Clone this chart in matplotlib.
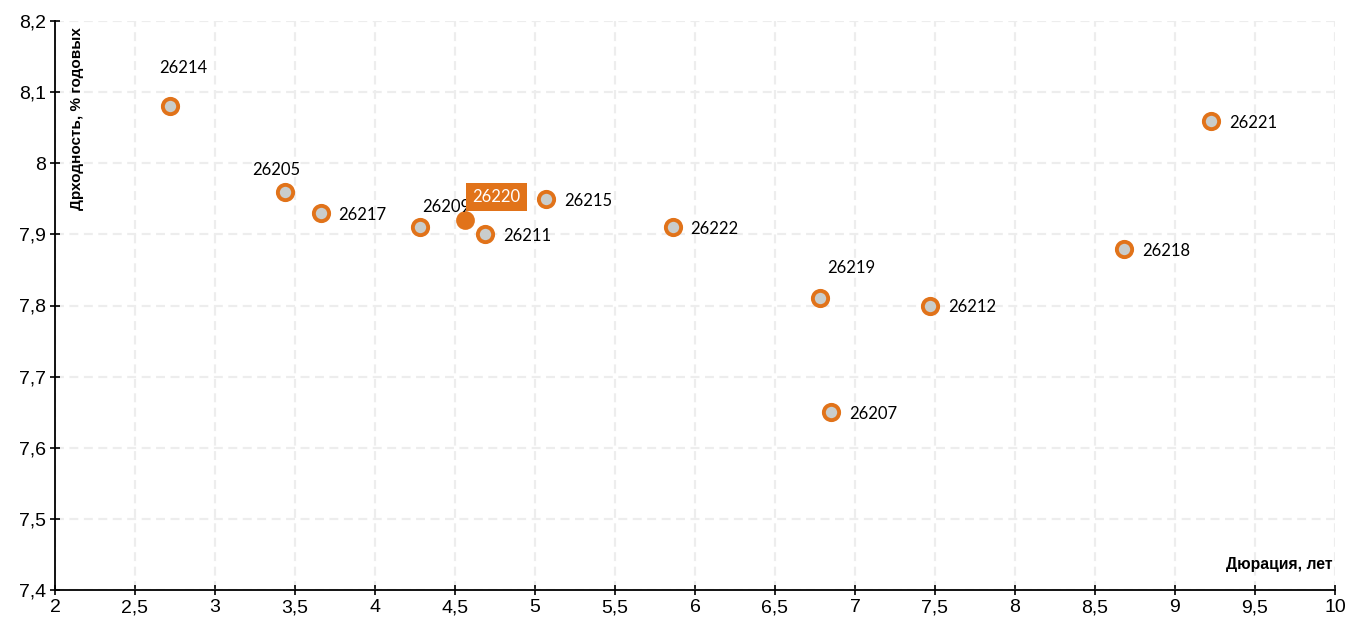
import matplotlib.pyplot as plt
from matplotlib.ticker import FuncFormatter, MultipleLocator

# bonds: duration (years) vs yield (% p.a.)
bonds = ["26214", "26205", "26217", "26209", "26220", "26211", "26215",
         "26222", "26219", "26212", "26207", "26218", "26221"]
duration = [2.72, 3.44, 3.66, 4.28, 4.56, 4.69, 5.07, 5.86, 6.78, 7.47, 6.85, 8.68, 9.225]
yields = [8.08, 7.96, 7.93, 7.91, 7.92, 7.90, 7.95, 7.91, 7.81, 7.80, 7.65, 7.88, 8.06]
highlight = "26220"

# label offsets in pixels (dx, dy, ha)
label_pos = {
    "26214": (13, 38, "center"),
    "26205": (-9, 22, "center"),
    "26209": (26, 20, "center"),
    "26219": (31, 30, "center"),
    "26220": (32, 23, "center"),
}
default_pos = (18, -2, "left")

ORANGE = "#E1731A"
GREY = "#C9CDCC"

plt.rcParams["font.family"] = ["Liberation Sans", "DejaVu Sans"]

fig = plt.figure(figsize=(13.47, 6.22), dpi=100)
ax = fig.add_axes([55 / 1347, 32 / 622, 1280 / 1347, 569 / 622])

for name, x, y in zip(bonds, duration, yields):
    if name == highlight:
        ax.plot(x, y, "o", ms=12, mfc=ORANGE, mec=ORANGE, mew=1.5, zorder=4)
    else:
        ax.plot(x, y, "o", ms=11, mfc=GREY, mec=ORANGE, mew=2.8, zorder=4)
    dx, dy, ha = label_pos.get(name, default_pos)
    if name == highlight:
        ax.annotate(name, (x, y), xytext=(dx, dy), textcoords="offset pixels",
                    ha=ha, va="center", fontsize=12, color="white",
                    family=["Lato", "DejaVu Sans"],
                    bbox=dict(boxstyle="square,pad=0.38", fc=ORANGE, ec="none"),
                    zorder=5)
    else:
        ax.annotate(name, (x, y), xytext=(dx, dy), textcoords="offset pixels",
                    ha=ha, va="center", fontsize=12, color="black",
                    family=["Lato", "DejaVu Sans"], zorder=5)

ax.set_xlim(2, 10)
ax.set_ylim(7.4, 8.2)
ax.xaxis.set_major_locator(MultipleLocator(0.5))
ax.yaxis.set_major_locator(MultipleLocator(0.1))
comma = FuncFormatter(lambda v, p: f"{v:.10g}".replace(".", ","))
ax.xaxis.set_major_formatter(comma)
ax.yaxis.set_major_formatter(comma)

ax.grid(True, color="#EDEDED", linestyle=(0, (4, 2.5)), linewidth=1.6)
ax.set_axisbelow(True)
for s in ("top", "right"):
    ax.spines[s].set_visible(False)
for s in ("left", "bottom"):
    ax.spines[s].set_linewidth(1.3)
ax.tick_params(direction="inout", length=7, width=1.2, labelsize=14, pad=3)

ax.text(0.017, 0.99, "Дрходность, % годовых", transform=ax.transAxes,
        rotation=90, ha="center", va="top", fontsize=11, fontweight="bold")
ax.text(0.998, 0.045, "Дюрация, лет", transform=ax.transAxes,
        ha="right", va="center", fontsize=11.3, fontweight="bold")

fig.savefig("out.png", dpi=100)
